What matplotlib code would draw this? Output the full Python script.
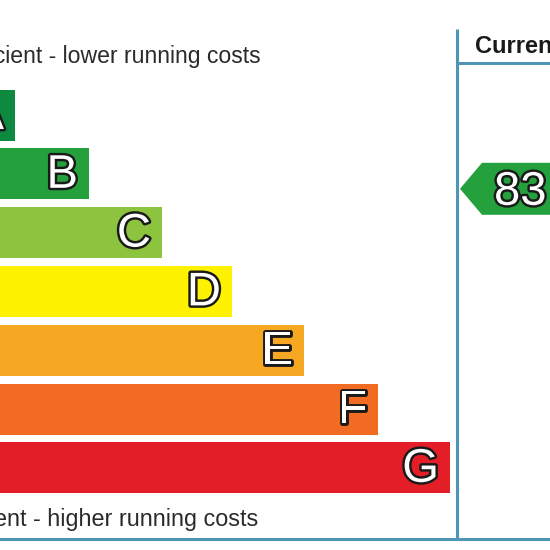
import matplotlib.pyplot as plt
import matplotlib.patheffects as pe
from matplotlib.patches import Polygon

# energy bands, bar lengths (px from left edge of the crop) and colours
bands = ['A', 'B', 'C', 'D', 'E', 'F', 'G']
bar_ends = [15, 89, 162, 232, 304, 378, 450]
band_colors = ['#0e8a40', '#24a03c', '#8cc43f', '#fff200', '#f7a823', '#f26b22', '#e31e26']

current_rating = 83
current_band = 'B'
top_label = 'Very energy efficient - lower running costs'
bottom_label = 'Not energy efficient - higher running costs'
column_title = 'Current'

plt.rcParams['font.family'] = ['Liberation Sans', 'DejaVu Sans']

fig = plt.figure(figsize=(5.5, 5.5), dpi=100)
ax = fig.add_axes([0, 0, 1, 1])
ax.set_xlim(0, 550)
ax.set_ylim(550, 0)
ax.axis('off')

row0 = 115
step = 58.8
bar_h = 51

outline = [pe.withStroke(linewidth=3.5, foreground='#1a1a1a')]

for i, (b, end, c) in enumerate(zip(bands, bar_ends, band_colors)):
    yc = row0 + i * step
    ax.barh(yc, end + 10, left=-10, height=bar_h, color=c, edgecolor='none')
    ax.text(end - 11, yc + 2, b, ha='right', va='center', fontsize=34,
            color='white', path_effects=outline)

ax.text(261, 63, top_label, ha='right', va='baseline', fontsize=16.6, color='#2a2a2a')
ax.text(258, 526, bottom_label, ha='right', va='baseline', fontsize=16.8, color='#2a2a2a')

# frame lines of the rating column
line_c = '#4f96b6'
ax.plot([457, 457], [29, 539], color=line_c, lw=2.2, solid_capstyle='butt')
ax.plot([457, 560], [63, 63], color=line_c, lw=2.2)
ax.plot([-5, 560], [539, 539], color=line_c, lw=2.2)

ax.text(475, 53, column_title, ha='left', va='baseline', fontsize=17,
        fontweight='bold', color='#1a1a1a')

# current rating arrow
yc = row0 + bands.index(current_band) * step + 15
tip = 460
arrow = Polygon([[tip, yc], [tip + 22, yc - 26], [560, yc - 26], [560, yc + 26],
                 [tip + 22, yc + 26]], closed=True, color=band_colors[1], lw=0)
ax.add_patch(arrow)
ax.text(494, yc + 4, str(current_rating), ha='left', va='center', fontsize=34,
        color='white', path_effects=outline)

fig.savefig('out.png', dpi=100)
